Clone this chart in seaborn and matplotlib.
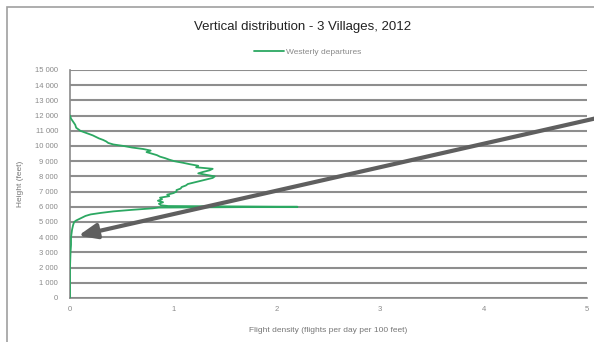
import matplotlib
matplotlib.use("Agg")
import matplotlib.pyplot as plt
import matplotlib.ticker as mticker
from matplotlib.patches import Rectangle
import seaborn as sns
import pandas as pd

# flight density (flights per day per 100 feet) by height (feet)
heights = [0, 1000, 2000, 3000, 3500, 4000, 4500, 4800, 5000, 5100, 5200, 5300,
           5400, 5500, 5600, 5700, 5800, 5900, 5950, 6000, 6050, 6100, 6200, 6300,
           6400, 6500, 6600, 6700, 6800, 6900, 7000, 7100, 7200, 7300, 7400, 7500,
           7600, 7700, 7800, 7900, 8000, 8100, 8200, 8300, 8400, 8500, 8600, 8700,
           8800, 8900, 9000, 9100, 9200, 9300, 9400, 9500, 9600, 9700, 9800, 9900,
           10000, 10100, 10200, 10300, 10400, 10500, 10600, 10700, 10800, 10900,
           11000, 11100, 11200, 11400, 11600, 11800, 12000]
density = [0.0, 0.0, 0.0, 0.005, 0.01, 0.01, 0.02, 0.03, 0.04, 0.06, 0.09, 0.12,
           0.15, 0.20, 0.30, 0.42, 0.60, 0.80, 0.86, 2.2, 0.95, 0.88, 0.86, 0.90,
           0.85, 0.89, 0.87, 0.96, 0.94, 1.00, 1.03, 1.03, 1.07, 1.08, 1.12, 1.14,
           1.20, 1.26, 1.32, 1.38, 1.40, 1.32, 1.24, 1.29, 1.35, 1.38, 1.22, 1.24,
           1.16, 1.09, 1.01, 0.96, 0.92, 0.87, 0.84, 0.79, 0.74, 0.78, 0.71, 0.60,
           0.52, 0.42, 0.37, 0.35, 0.32, 0.28, 0.25, 0.22, 0.18, 0.14,
           0.10, 0.08, 0.06, 0.05, 0.03, 0.01, 0.0]
series_name = "Westerly departures"

df = pd.DataFrame({"height": heights, "density": density, "series": series_name})

sns.set_style("white")
plt.rcParams["font.family"] = ["Liberation Sans", "DejaVu Sans"]

fig = plt.figure(figsize=(5.94, 3.42), dpi=100)
ax = fig.add_axes([70 / 594, 44 / 342, 517 / 594, 228 / 342])

sns.lineplot(data=df, x="density", y="height", hue="series", orient="y",
             estimator=None, sort=False, palette=["#2ca862"], linewidth=1.3,
             ax=ax, zorder=3)

ax.set_xlim(0, 5)
ax.set_ylim(0, 15000)
ax.set_xticks(range(0, 6))
ax.set_yticks(range(0, 15001, 1000))
ax.yaxis.set_major_formatter(
    mticker.FuncFormatter(lambda v, p: f"{v:,.0f}".replace(",", " ")))

ax.grid(axis="y", color="#8e8e8e", linewidth=1.5)
ax.grid(axis="x", visible=False)
for s in ["top", "right"]:
    ax.spines[s].set_visible(False)
for s in ["left", "bottom"]:
    ax.spines[s].set_color("#8a8a8a")
    ax.spines[s].set_linewidth(1.2)
ax.tick_params(axis="both", direction="inout", length=5, width=1,
               color="#8a8a8a", labelsize=5.5, labelcolor="#8a8a8a")
ax.tick_params(axis="y", pad=6)
ax.tick_params(axis="x", pad=3)

ax.set_xlabel("Flight density (flights per day per 100 feet)", fontsize=6,
              color="#777777", labelpad=10)
ax.set_ylabel("Height (feet)", fontsize=6, color="#777777", labelpad=8)

fig.text(0.51, 0.92, "Vertical distribution - 3 Villages, 2012", ha="center",
         va="center", fontsize=9.5, color="#222222")

leg = ax.legend(loc="lower center", bbox_to_anchor=(0.46, 1.03), frameon=False,
                fontsize=6, handlelength=3.5, handletextpad=0.3)
for t in leg.get_texts():
    t.set_color("#8a8a8a")

# frame of the chart
fig.patches.append(Rectangle((7 / 594, -0.1), 1.2, (342 - 7) / 342 + 0.1,
                             transform=fig.transFigure, fill=False,
                             edgecolor="#a0a0a0", linewidth=1.2))

# pointing arrow
ax.annotate("", xy=(0.08, 4100), xycoords="data",
            xytext=(1.02, 1 - 116 / 342), textcoords="figure fraction",
            arrowprops=dict(arrowstyle="-|>,head_length=1.1,head_width=0.45",
                            color="#5f5f5f", lw=3, shrinkA=0, shrinkB=0),
            annotation_clip=False, zorder=5)

fig.savefig("out.png", dpi=100)
